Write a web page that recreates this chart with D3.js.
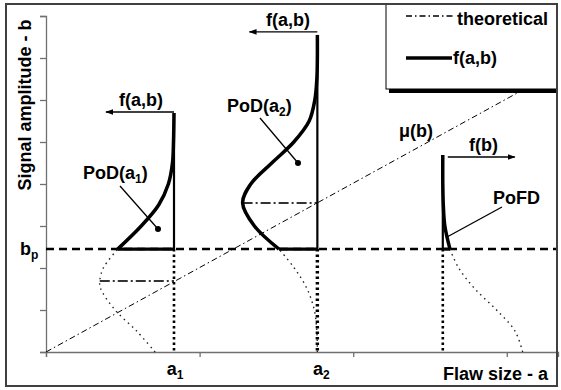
<!DOCTYPE html>
<html>
<head>
<meta charset="utf-8">
<script src="https://cdn.jsdelivr.net/npm/d3@7"></script>
<style>
  body { margin: 0; background: #fff; }
  text { font-family: "Liberation Sans", Arial, sans-serif; font-weight: bold; font-size: 18px; fill: #000; }
</style>
</head>
<body>
<div id="chart"></div>
<script>
// axes ticks (no tick labels in the original)
const aTicks = [0, 3, 6, 9];
const bTicks = [0, 1, 2, 3, 4, 5, 6, 7, 8];

// key positions on the axes
const a1 = 2.5, a2 = 5.3, a3 = 7.75;
const bp = 2.45;

// theoretical mean line mu(b)
const thA = [0, 10];
const thB = [0, 6.7];

// f(a1,b): signal amplitude b and density (drawn leftwards, in a units)
const c1B = [0, 0.5, 1, 1.5, 1.69, 2, 2.45, 3, 3.5, 4, 4.5, 5, 5.69];
const c1F = [0.37, 0.73, 1.15, 1.43, 1.45, 1.38, 1.10, 0.64, 0.30, 0.11, 0.03, 0.01, 0];
const mean1 = 1.69, peak1 = 1.45;

// f(a2,b)
const c2B = [0, 0.5, 1, 1.5, 2, 2.45, 3, 3.55, 4, 4.5, 5, 5.5, 6, 6.5, 7, 7.55];
const c2F = [0, 0.01, 0.06, 0.2, 0.45, 0.75, 1.23, 1.46, 1.30, 0.89, 0.46, 0.16, 0.05, 0.01, 0, 0];
const mean2 = 3.55, peak2 = 1.46;

// f(b): noise density (drawn rightwards)
const c3B = [0, 0.5, 1, 1.5, 2, 2.45, 3, 3.5, 4, 4.69];
const c3F = [1.56, 1.41, 1.05, 0.63, 0.31, 0.14, 0.04, 0.01, 0, 0];

const W = 561, H = 390;

const svg = d3.select("#chart").append("svg")
    .attr("width", W)
    .attr("height", H);

const defs = svg.append("defs");
defs.append("marker")
    .attr("id", "arrow")
    .attr("viewBox", "0 0 10 10")
    .attr("refX", 9).attr("refY", 5)
    .attr("markerWidth", 8).attr("markerHeight", 8)
    .attr("markerUnits", "userSpaceOnUse")
    .attr("orient", "auto")
    .append("path")
    .attr("d", "M0,1.5 L10,5 L0,8.5 Z")
    .attr("fill", "#000");

// scales
let x = d3.scaleLinear().domain([0, 10]).range([46, 558]);
let y = d3.scaleLinear().domain([0, 8]).range([352, 16]);

// axes
const gx = svg.append("g")
    .attr("transform", "translate(0," + y(0) + ")")
    .call(d3.axisBottom(x).tickValues(aTicks).tickFormat("").tickSizeOuter(0).tickSize(5));
const gy = svg.append("g")
    .attr("transform", "translate(" + x(0) + ",0)")
    .call(d3.axisLeft(y).tickValues(bTicks).tickFormat("").tickSizeOuter(0).tickSize(6));
[gx, gy].forEach(g => {
    g.select(".domain").attr("stroke", "#707070").attr("stroke-width", 1.3);
    g.selectAll(".tick line").attr("stroke", "#707070").attr("stroke-width", 1.3);
});

// theoretical mu(b)
svg.append("path")
    .datum(d3.zip(thA, thB))
    .attr("fill", "none")
    .attr("stroke", "#000")
    .attr("stroke-width", 1)
    .attr("stroke-dasharray", "6,3,1.5,3")
    .attr("d", d3.line().x(d => x(d[0])).y(d => y(d[1])));

// b_p threshold
svg.append("line")
    .attr("x1", x(0)).attr("x2", x(10))
    .attr("y1", y(bp)).attr("y2", y(bp))
    .attr("stroke", "#000")
    .attr("stroke-width", 2.5)
    .attr("stroke-dasharray", "8,5");

// helper to draw one density curve
function density(a0, bs, fs, dir, dotW) {
    const pts = d3.zip(bs, fs);
    const lineFn = d3.line()
        .x(d => x(a0 + dir * d[1]))
        .y(d => y(d[0]))
        .curve(d3.curveCatmullRom);
    const below = pts.filter(d => d[0] <= bp);
    const above = pts.filter(d => d[0] >= bp);
    const top = bs[bs.length - 1];

    // dotted part below threshold
    svg.append("path")
        .datum(below)
        .attr("fill", "none")
        .attr("stroke", "#222")
        .attr("stroke-width", 1.4)
        .attr("stroke-dasharray", "1.5,4")
        .attr("d", lineFn);

    // dotted vertical from b_p down to the axis
    svg.append("line")
        .attr("x1", x(a0)).attr("x2", x(a0))
        .attr("y1", y(bp)).attr("y2", y(0))
        .attr("stroke", "#000")
        .attr("stroke-width", dotW)
        .attr("stroke-dasharray", "2.5,3");

    // vertical solid line
    svg.append("line")
        .attr("x1", x(a0)).attr("x2", x(a0))
        .attr("y1", y(bp)).attr("y2", y(top))
        .attr("stroke", "#000")
        .attr("stroke-width", 2.2);

    // thick curve above threshold
    svg.append("path")
        .datum(above)
        .attr("fill", "none")
        .attr("stroke", "#000")
        .attr("stroke-width", 3.5)
        .attr("stroke-linejoin", "round")
        .attr("d", lineFn);

    // closing segment along b_p
    svg.append("line")
        .attr("x1", x(a0 + dir * above[0][1])).attr("x2", x(a0))
        .attr("y1", y(bp)).attr("y2", y(bp))
        .attr("stroke", "#000")
        .attr("stroke-width", 3.2);
}

// mean level markers (dash-dot)
[[a1, mean1, peak1], [a2, mean2, peak2]].forEach(m => {
    svg.append("line")
        .attr("x1", x(m[0] - m[2])).attr("x2", x(m[0]))
        .attr("y1", y(m[1])).attr("y2", y(m[1]))
        .attr("stroke", "#333")
        .attr("stroke-width", 2)
        .attr("stroke-dasharray", "10,3,2,3");
});

density(a1, c1B, c1F, -1, 2.6);
density(a2, c2B, c2F, -1, 3.4);
density(a3, c3B, c3F, 1, 2.6);

// arrows
function arrow(x1, x2, yy) {
    svg.append("line")
        .attr("x1", x1).attr("x2", x2)
        .attr("y1", yy).attr("y2", yy)
        .attr("stroke", "#000")
        .attr("stroke-width", 1.3)
        .attr("marker-end", "url(#arrow)");
}
arrow(x(a1), x(a1) - 68, y(c1B[c1B.length - 1]) - 1);
arrow(x(a2), x(a2) - 68, y(c2B[c2B.length - 1]) - 3);
arrow(x(a3) + 5, x(a3) + 72, y(c3B[c3B.length - 1]) + 2);

// leader lines
function leader(x1, y1, x2, y2, dot) {
    svg.append("line")
        .attr("x1", x1).attr("y1", y1).attr("x2", x2).attr("y2", y2)
        .attr("stroke", "#000").attr("stroke-width", 1.3);
    if (dot) svg.append("circle").attr("cx", x2).attr("cy", y2).attr("r", 3).attr("fill", "#000");
}
leader(120, 186, 158, 229, true);
leader(260, 118, 298, 163, true);
leader(502, 207, 447, 237, false);

// labels
function label(tx, ty, parts, anchor) {
    const t = svg.append("text")
        .attr("x", tx).attr("y", ty)
        .attr("text-anchor", anchor || "start");
    let shift = 0;
    parts.forEach(p => {
        const sub = p[1];
        const s = t.append("tspan").text(p[0]);
        if (sub && shift === 0) { s.attr("dy", 4).style("font-size", "12px"); shift = 4; }
        else if (!sub && shift !== 0) { s.attr("dy", -4); shift = 0; }
    });
    return t;
}
label(141, 106, [["f(a,b)"]], "middle");
label(288, 26, [["f(a,b)"]], "middle");
label(469, 151, [["f(b)"]]);
label(83, 179, [["PoD(a"], ["1", true], [")"]]);
label(227, 112, [["PoD(a"], ["2", true], [")"]]);
label(493, 204, [["PoFD"]]);
label(399, 137, [["\u03bc(b)"]]);
label(20, 255, [["b"], ["p", true]]);
label(x(a1) + 1, 375, [["a"], ["1", true]], "middle");
label(x(a2) + 4, 375, [["a"], ["2", true]], "middle");
label(443, 380, [["Flaw size - a"]]);

svg.append("text")
    .attr("transform", "translate(31,105) rotate(-90)")
    .attr("text-anchor", "middle")
    .text("Signal amplitude - b");

// legend
const lg = svg.append("g");
lg.append("rect")
    .attr("x", 389).attr("y", 7)
    .attr("width", 168).attr("height", 86)
    .attr("fill", "#000");
lg.append("rect")
    .attr("x", 386).attr("y", 4)
    .attr("width", 171).attr("height", 85)
    .attr("fill", "#fff")
    .attr("stroke", "#000")
    .attr("stroke-width", 1);
lg.append("line")
    .attr("x1", 406).attr("x2", 453).attr("y1", 16).attr("y2", 16)
    .attr("stroke", "#000").attr("stroke-width", 1.3)
    .attr("stroke-dasharray", "6,3,1.5,3");
lg.append("text").attr("x", 457).attr("y", 25).text("theoretical");
lg.append("line")
    .attr("x1", 406).attr("x2", 452).attr("y1", 58).attr("y2", 58)
    .attr("stroke", "#000").attr("stroke-width", 3.5);
lg.append("text").attr("x", 453).attr("y", 64).text("f(a,b)");

// outer frame
svg.append("rect")
    .attr("x", 6).attr("y", 4)
    .attr("width", 551).attr("height", 382)
    .attr("fill", "none")
    .attr("stroke", "#404040")
    .attr("stroke-width", 2);
</script>
</body>
</html>
